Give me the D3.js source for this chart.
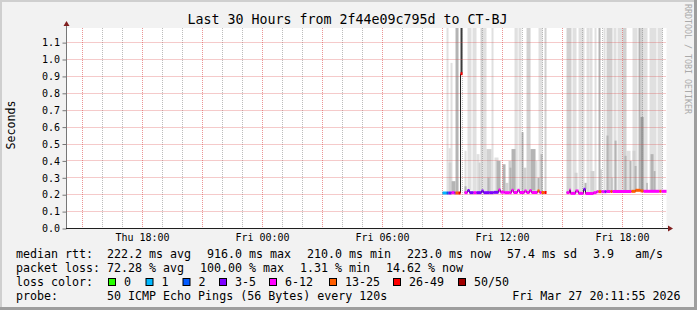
<!DOCTYPE html>
<html><head><meta charset="utf-8">
<script src="https://cdn.jsdelivr.net/npm/d3@7"></script>
<style>
html,body{margin:0;padding:0;background:#f2f2f2;}
svg{display:block;}
text{font-family:"DejaVu Sans Mono",monospace;fill:#000;}
</style>
</head><body>
<svg id="chart" width="697" height="310"></svg>
<script>
// ---------------- data ----------------
const title = "Last 30 Hours from 2f44e09c795d to CT-BJ";
const yLabel = "Seconds";
const watermark = "RRDTOOL / TOBI OETIKER";
// time in minutes relative to Fri 00:00 (window: Thu 14:11:55 .. Fri 20:11:55)
const timeDomain = [-588.083, 1211.917];
const xTickTimes = [-360, 0, 360, 720, 1080];
const xTickLabels = ["Thu 18:00", "Fri 00:00", "Fri 06:00", "Fri 12:00", "Fri 18:00"];
const yTickValues = [0.0, 0.1, 0.2, 0.3, 0.4, 0.5, 0.6, 0.7, 0.8, 0.9, 1.0, 1.1];
const yMax = 1.1865;
const minRtt = 0.210;

// median rtt (s) and lost pings (of 50), step values starting at medTime
const medTime = [540,552,558,567,576,579,588,594,600,606,615,621,633,642,657,663,681,693,708,714,726,741,747,753,765,771,786,792,801,807,825,831,837,846,852,
                 912,921,924,939,948,963,969,993,1002,1008,1017,1026,1032,1044,1050,1107,1119,1134,1143,1191,1197,1212];
const medValue = [0.210,0.210,0.210,0.212,0.210,0.210,0.210,0.916,null,0.212,0.225,0.212,0.212,0.212,0.222,0.212,0.212,0.214,0.228,0.215,0.212,0.212,0.226,0.213,0.226,0.213,0.222,0.213,0.224,0.213,0.222,0.213,0.213,0.213,null,
                  0.212,0.228,0.208,0.222,0.208,0.232,0.207,0.212,0.218,0.218,0.218,0.218,0.219,0.219,0.219,0.220,0.226,0.222,0.220,0.220,0.220,null];
const medLoss = [1,2,4,8,4,20,30,30,null,8,4,4,8,4,4,4,4,4,8,8,8,8,8,8,8,8,8,8,8,8,20,8,20,30,null,
                 8,8,8,8,8,4,8,8,8,20,8,4,8,20,8,20,20,20,8,20,8,null];

// smoke: time span (min), top ping value (s; > yMax = off scale), ping-rank layer (1 outer .. 5 inner)
const smokeStart = [552,558,558,564,567,579,594,606,606,615,630,642,648,654,660,672,675,687,696,702,720,729,738,741,747,756,762,768,777,783,792,804,819,825,828,834,846,
                    912,930,936,948,954,966,972,981,984,996,1008,1014,1023,1032,1032,1047,1053,1056,1065,1080,1086,1092,1101,1110,1110,1116,1128,1134,1134,1143,1152,1161,1164,1173,1185];
const smokeEnd   = [558,567,567,570,579,588,600,612,612,627,642,651,654,660,672,687,681,693,708,714,729,738,747,747,759,762,765,777,783,792,804,819,825,831,840,840,852,
                    927,942,945,960,966,972,981,990,996,1002,1014,1017,1029,1050,1038,1050,1062,1062,1080,1092,1092,1104,1107,1125,1119,1122,1134,1143,1143,1155,1155,1182,1173,1179,1200];
const smokeTop   = [1.25,0.475,0.39,0.98,0.28,1.25,1.25,0.46,0.25,1.25,1.25,0.44,0.39,1.25,1.25,0.47,0.30,1.25,0.42,0.40,0.38,0.27,0.40,0.36,0.47,1.25,1.25,1.25,0.57,0.36,1.25,0.47,0.40,0.30,1.25,0.44,1.25,
                    1.25,1.25,0.33,1.25,1.25,0.27,1.25,1.25,0.34,1.25,1.25,0.35,1.25,1.25,0.55,0.30,1.25,0.52,1.25,1.25,0.43,0.46,0.40,1.25,0.46,0.37,1.25,1.25,0.66,1.25,0.27,1.25,0.44,0.34,1.25];
const smokeLayer = [1,1,2,1,3,3,5,1,3,1,1,1,2,2,1,2,3,1,1,3,3,2,2,3,3,1,2,1,3,2,2,3,1,3,1,3,2,
                    2,1,2,1,1,3,1,1,2,1,3,3,1,2,3,3,1,3,1,2,3,1,3,1,2,3,3,2,4,1,4,1,3,3,1];

// loss colour legend
const lossLabels = ["0", "1", "2", "3-5", "6-12", "13-25", "26-49", "50/50"];
const lossThresholds = [1, 2, 3, 6, 13, 26, 50];
const lossColors = ["#26ff00", "#00b8ff", "#0059ff", "#7e00ff", "#ff00ff", "#ff5e00", "#ff0000", "#a10000"];

// legend texts
const rttRowLabel = "median rtt:";
const rttRowItems = ["222.2 ms avg", "916.0 ms max", "210.0 ms min", "223.0 ms now", "57.4 ms sd", "3.9", "am/s"];
const lossRowLabel = "packet loss:";
const lossRowItems = ["72.28 % avg", "100.00 % max", "1.31 % min", "14.62 % now"];
const colorRowLabel = "loss color:";
const probeRowLabel = "probe:";
const probeText = "50 ICMP Echo Pings (56 Bytes) every 120s";
const stampText = "Fri Mar 27 20:11:55 2026";

// ---------------- layout ----------------
const W = 697, H = 310;
const P = {left: 66.5, right: 666.5, top: 28, bottom: 228.5};
const rttRowX = [107, 207, 307, 407, 507, 593, 635];
const lossRowX = [107, 200, 300, 386];
const swatchX = [108, 145.5, 182.5, 219, 269, 329, 393, 458];
const rowY = [258, 272, 286, 300];
const leftX = 16, valueX = 107;

const x = d3.scaleLinear().domain(timeDomain).range([P.left, P.right]);
const y = d3.scaleLinear().domain([0, yMax]).range([P.bottom, P.top]);
const lossColor = d3.scaleThreshold().domain(lossThresholds).range(lossColors);
const smokeColor = d3.scaleOrdinal().domain([1,2,3,4,5]).range(["#e0e0e0","#d1d1d1","#b4b4b4","#9a9a9a","#3c3c3c"]);

const svg = d3.select("#chart");

// background & frame
svg.append("rect").attr("width", W).attr("height", H).attr("fill", "#f2f2f2");
svg.append("rect").attr("x",0).attr("y",0).attr("width",W).attr("height",2).attr("fill","#cfcfcf");
svg.append("rect").attr("x",0).attr("y",0).attr("width",2).attr("height",H).attr("fill","#cfcfcf");
svg.append("rect").attr("x",W-3).attr("y",0).attr("width",3).attr("height",H).attr("fill","#9e9e9e");
svg.append("rect").attr("x",0).attr("y",H-3).attr("width",W).attr("height",3).attr("fill","#9e9e9e");

// canvas
svg.append("rect").attr("x", P.left).attr("y", P.top)
  .attr("width", P.right - P.left).attr("height", P.bottom - P.top).attr("fill", "#fff");

svg.append("clipPath").attr("id","clip").append("rect")
  .attr("x", P.left).attr("y", P.top).attr("width", P.right - P.left).attr("height", P.bottom - P.top);

// median lookup
const med = medTime.map((t,i) => ({t, v: medValue[i], loss: medLoss[i]}));
const bis = d3.bisector(d => d.t).right;
function medianAt(t){ const i = bis(med, t) - 1; const d = med[Math.max(0,i)]; return d.v == null ? minRtt : d.v; }

// smoke
const smoke = smokeStart.map((s,i) => ({s, e: smokeEnd[i], top: smokeTop[i], layer: smokeLayer[i]}))
  .sort((a,b) => a.layer - b.layer);
const gSmoke = svg.append("g").attr("clip-path","url(#clip)");
gSmoke.selectAll("rect").data(smoke).join("rect")
  .attr("x", d => x(d.s)).attr("width", d => x(d.e) - x(d.s))
  .attr("y", d => y(Math.min(d.top, yMax + 0.05)))
  .attr("height", d => y(medianAt(d.s)) - y(Math.min(d.top, yMax + 0.05)))
  .attr("fill", d => smokeColor(d.layer));

// grid
const gGrid = svg.append("g");
const hours = d3.range(Math.ceil(timeDomain[0]/60)*60, timeDomain[1], 60);
gGrid.selectAll("line.v").data(hours).join("line")
  .attr("x1", d => Math.floor(x(d)) + 0.5).attr("x2", d => Math.floor(x(d)) + 0.5)
  .attr("y1", P.top).attr("y2", P.bottom)
  .attr("stroke", d => ((((d/60)%24)+24)%3 === 0) ? "rgba(222,79,79,0.6)" : "rgba(143,143,143,0.6)")
  .attr("stroke-dasharray", "1,1");
gGrid.selectAll("line.h").data(yTickValues.filter(v => v > 0)).join("line")
  .attr("x1", P.left).attr("x2", P.right)
  .attr("y1", d => Math.floor(y(d)) + 0.5).attr("y2", d => Math.floor(y(d)) + 0.5)
  .attr("stroke", "rgba(222,79,79,0.6)").attr("stroke-dasharray", "1,1");

// median black line
const lineGen = d3.line().defined(d => d.v != null).x(d => x(d.t)).y(d => y(d.v)).curve(d3.curveStepAfter);
svg.append("path").datum(med).attr("d", lineGen).attr("fill","none").attr("stroke","#202020").attr("stroke-width",1);

// loss-coloured median bands
const bands = med.slice(0, -1).map((d,i) => ({...d, t1: med[i+1].t})).filter(d => d.v != null);
svg.append("g").selectAll("rect").data(bands).join("rect")
  .attr("x", d => x(d.t)).attr("width", d => x(d.t1) - x(d.t))
  .attr("y", d => y(d.v) - 1.5).attr("height", 3)
  .attr("fill", d => lossColor(d.loss));

// axes
const yAxis = d3.axisLeft(y).tickValues(yTickValues).tickFormat(d3.format(".1f")).tickSize(4).tickPadding(2.5);
const gy = svg.append("g").attr("transform", `translate(${P.left},0)`).call(yAxis);
gy.select(".domain").remove();
gy.selectAll(".tick line").attr("stroke", "#777");
gy.selectAll(".tick text").style("font-family", '"DejaVu Sans Mono", monospace').style("font-size", "10px").attr("fill", "#000");
gy.attr("font-family", null).attr("font-size", null);

svg.append("line").attr("x1", P.left).attr("x2", P.left).attr("y1", P.bottom).attr("y2", 26)
  .attr("stroke", "#777").attr("stroke-width", 1);
svg.append("line").attr("x1", P.left - 0.5).attr("x2", 668).attr("y1", P.bottom).attr("y2", P.bottom)
  .attr("stroke", "#1f1f1f").attr("stroke-width", 1);
svg.append("path").attr("d", `M${P.left-3},26L${P.left+3},26L${P.left},21Z`).attr("fill", "#801f1f");
svg.append("path").attr("d", `M668,${P.bottom-3}L668,${P.bottom+3}L673,${P.bottom}Z`).attr("fill", "#801f1f");

svg.append("g").selectAll("text").data(xTickTimes).join("text")
  .attr("x", d => x(d)).attr("y", 241).attr("text-anchor", "middle")
  .style("font-size", "10px").text((d,i) => xTickLabels[i]);

// title, y label, watermark
svg.append("text").attr("x", 347.5).attr("y", 23.5).attr("text-anchor", "middle")
  .style("font-size", "13.3px").text(title);
svg.append("text").attr("transform", "translate(14.5,125) rotate(-90)").attr("text-anchor", "middle")
  .style("font-size", "11.65px").text(yLabel);
svg.append("text").attr("transform", "translate(684.5,4) rotate(90)")
  .style("font-size", "8.3px").style("fill", "#aaa").text(watermark);

// legend
const gL = svg.append("g").style("font-size", "11.65px");
function put(txt, xx, yy, anchor){ gL.append("text").attr("x", xx).attr("y", yy).attr("xml:space","preserve")
  .attr("text-anchor", anchor || "start").text(txt); }
put(rttRowLabel, leftX, rowY[0]);
rttRowItems.forEach((t,i) => put(t, rttRowX[i], rowY[0]));
put(lossRowLabel, leftX, rowY[1]);
lossRowItems.forEach((t,i) => put(t, lossRowX[i], rowY[1]));
put(colorRowLabel, leftX, rowY[2]);
lossLabels.forEach((t,i) => {
  gL.append("rect").attr("x", swatchX[i] + 0.5).attr("y", rowY[2] - 7.5).attr("width", 7).attr("height", 7)
    .attr("fill", lossColors[i]).attr("stroke", "#000").attr("stroke-width", 1);
  put(t, swatchX[i] + 16, rowY[2]);
});
put(probeRowLabel, leftX, rowY[3]);
put(probeText, valueX, rowY[3]);
put(stampText, 680.5, rowY[3], "end");
</script>
</body></html>
